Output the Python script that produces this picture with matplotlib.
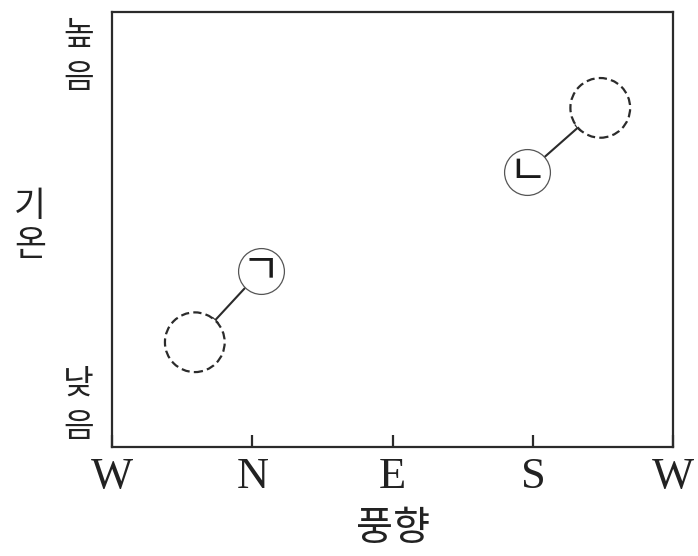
import numpy as np
import matplotlib.pyplot as plt

plt.rcParams['font.family'] = ['Noto Sans CJK KR', 'DejaVu Sans']

# x: wind direction (0=W, 1=N, 2=E, 3=S, 4=W), y: temperature (0 low .. 1 high)
dir_ticks = [0, 1, 2, 3, 4]
dir_labels = ['W', 'N', 'E', 'S', 'W']
temp_ticks = [0.094, 0.897]
temp_labels = ['낮\n음', '높\n음']

point_names = ['ㄱ', 'ㄴ']
point_x = [1.06, 2.96]
point_y = [0.405, 0.632]
ghost_x = [0.59, 3.48]
ghost_y = [0.241, 0.780]

dark = '#2b2b2b'

fig = plt.figure(figsize=(6.98, 5.56), dpi=100)
ax = fig.add_axes([0.1605, 0.196, 0.804, 0.782])
ax.set_xlim(0, 4)
ax.set_ylim(0, 1)

for s in ax.spines.values():
    s.set_linewidth(1.6)
    s.set_color(dark)

# dashed circles
ax.scatter(ghost_x, ghost_y, s=43**2, facecolors='white', edgecolors=dark,
           linewidths=1.6, linestyle=(0, (3.7, 1.9)), zorder=3)
# solid circles
ax.scatter(point_x, point_y, s=33**2, facecolors='white', edgecolors='#555555',
           linewidths=0.9, zorder=3)

for gx, gy, px, py in zip(ghost_x, ghost_y, point_x, point_y):
    ax.annotate('', xy=(px, py), xytext=(gx, gy),
                arrowprops=dict(arrowstyle=']-, widthA=0.25, lengthA=0', color=dark, lw=1.5,
                                shrinkA=21.5, shrinkB=17), zorder=2)

for name, px, py in zip(point_names, point_x, point_y):
    ax.text(px, py, name, ha='center', va='center', fontsize=30, fontweight='light',
            color='#1a1a1a', zorder=4)

ax.set_xticks(dir_ticks)
ax.set_xticklabels(dir_labels, family='Liberation Serif', fontsize=32, color='#222222')
ax.tick_params(axis='x', direction='in', length=9, width=1.6, color=dark, pad=7)

ax.set_yticks(temp_ticks)
ax.set_yticklabels(temp_labels, rotation=0, va='center', ha='right',
                   multialignment='center', linespacing=1.3, fontsize=24, color='#222222')
ax.tick_params(axis='y', length=0, pad=13)

ax.set_xlabel('풍향', fontsize=29, color='#222222', labelpad=8)
ax.set_ylabel('기\n온', fontsize=25, color='#222222', rotation=0,
              ha='center', va='center', linespacing=1.15)
ax.yaxis.set_label_coords(-0.146, 0.508)

fig.savefig('out.png', dpi=100)
